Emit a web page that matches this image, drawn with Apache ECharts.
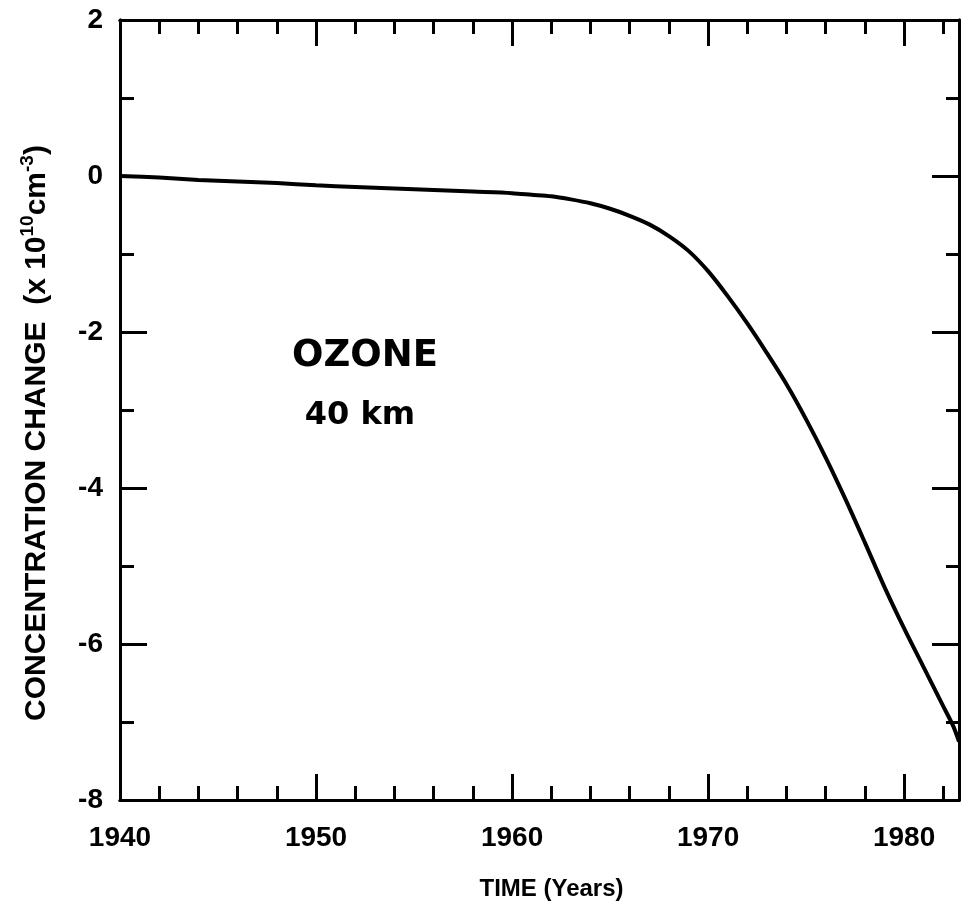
<!DOCTYPE html>
<html>
<head>
<meta charset="utf-8">
<script src="https://cdn.jsdelivr.net/npm/echarts@6/dist/echarts.min.js"></script>
<style>
  html, body { margin: 0; padding: 0; background: #fff; }
  #chart { width: 961px; height: 911px; }
</style>
</head>
<body>
<div id="chart"></div>
<script>
// ozone concentration change at 40 km
const years = [1940, 1942, 1944, 1946, 1948, 1950, 1952, 1954, 1956, 1958, 1960, 1961, 1962, 1963, 1964,
  1965, 1966, 1967, 1968, 1969, 1970, 1971, 1972, 1973, 1974, 1975, 1976, 1977, 1978, 1979,
  1980, 1981, 1982, 1982.5, 1982.8]
const ozoneChange = [0.0, -0.02, -0.05, -0.07, -0.09, -0.12, -0.14, -0.16, -0.18, -0.2, -0.22, -0.24, -0.26, -0.3, -0.35,
  -0.42, -0.51, -0.62, -0.77, -0.96, -1.22, -1.54, -1.89, -2.27, -2.67, -3.12, -3.61, -4.14, -4.7, -5.27,
  -5.8, -6.3, -6.8, -7.05, -7.25]

const xTickLabels = [1940, 1950, 1960, 1970, 1980]
const yTickLabels = [2, 0, -2, -4, -6, -8]

const FONT = '"Liberation Sans", Arial, sans-serif'
const INK = '#000'

const chart = echarts.init(document.getElementById('chart'), null, { renderer: 'canvas' })

// helper: one axis, either the long "major" ticks with labels or short "minor" ticks
function xAx(pos, interval, len, withLabels, extra) {
  return Object.assign({
    type: 'value',
    position: pos,
    min: 1940,
    max: 1982.8,
    interval: interval,
    axisLine: { show: true, onZero: false, lineStyle: { color: INK, width: 3 } },
    axisTick: { show: true, inside: true, length: len, lineStyle: { color: INK, width: 3 } },
    axisLabel: {
      show: withLabels,
      margin: 24,
      color: INK,
      fontFamily: FONT,
      fontWeight: 'bold',
      fontSize: 28,
      formatter: v => xTickLabels.includes(v) ? String(v) : ''
    },
    splitLine: { show: false }
  }, extra || {})
}

function yAx(pos, interval, len, withLabels, extra) {
  return Object.assign({
    type: 'value',
    position: pos,
    min: -8,
    max: 2,
    interval: interval,
    axisLine: { show: true, onZero: false, lineStyle: { color: INK, width: 3 } },
    axisTick: { show: true, inside: true, length: len, lineStyle: { color: INK, width: 3 } },
    axisLabel: {
      show: withLabels,
      margin: 17,
      color: INK,
      fontFamily: FONT,
      fontWeight: 'bold',
      fontSize: 28,
      formatter: v => yTickLabels.includes(v) ? String(v) : ''
    },
    splitLine: { show: false }
  }, extra || {})
}

const option = {
  backgroundColor: '#fff',
  animation: false,
  grid: {
    left: 120,
    right: 2,
    top: 20,
    bottom: 111,
    containLabel: false,
    outerBoundsMode: 'none'
  },
  xAxis: [
    xAx('bottom', 10, 26, true, {
      name: 'TIME (Years)',
      nameLocation: 'middle',
      nameGap: 77,
      nameTextStyle: {
        color: INK,
        fontFamily: FONT,
        fontWeight: 'bold',
        fontSize: 24,
        padding: [0, 0, 0, 24]
      }
    }),
    xAx('bottom', 2, 14, false),
    xAx('top', 10, 26, false),
    xAx('top', 2, 14, false)
  ],
  yAxis: [
    yAx('left', 2, 27, true, {
      name: '{m|CONCENTRATION CHANGE  (x 10}{s|10}{m|cm}{s|-3}{m|)}',
      nameLocation: 'middle',
      nameRotate: 90,
      nameGap: 64,
      nameTextStyle: {
        padding: [0, 46, 0, 0],
        rich: {
          m: { color: INK, fontFamily: FONT, fontWeight: 'bold', fontSize: 30, lineHeight: 38 },
          s: { color: INK, fontFamily: FONT, fontWeight: 'bold', fontSize: 19, lineHeight: 19, verticalAlign: 'top' }
        }
      }
    }),
    yAx('left', 1, 14, false),
    yAx('right', 2, 27, false),
    yAx('right', 1, 13, false)
  ],
  graphic: [
    {
      type: 'text',
      x: 365,
      y: 356,
      style: {
        text: 'OZONE',
        fill: INK,
        font: 'bold 37px "DejaVu Sans", sans-serif',
        align: 'center',
        verticalAlign: 'middle'
      }
    },
    {
      type: 'text',
      x: 360,
      y: 416,
      style: {
        text: '40 km',
        fill: INK,
        font: 'bold 32px "DejaVu Sans", sans-serif',
        align: 'center',
        verticalAlign: 'middle'
      }
    }
  ],
  series: [
    {
      name: 'Ozone 40 km',
      type: 'line',
      xAxisIndex: 0,
      yAxisIndex: 0,
      data: years.map((y, i) => [y, ozoneChange[i]]),
      smooth: 0.3,
      showSymbol: false,
      symbol: 'none',
      clip: true,
      lineStyle: { color: INK, width: 4 }
    }
  ]
}

chart.setOption(option)
</script>
</body>
</html>
